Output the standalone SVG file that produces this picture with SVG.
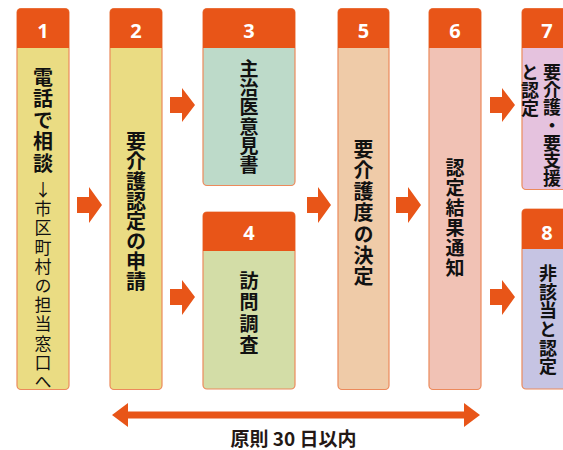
<svg xmlns="http://www.w3.org/2000/svg" width="563" height="450" viewBox="0 0 563 450">
<style>
.box{stroke:#EC8A5C;stroke-width:1.2}
.hd{fill:#E85518}
.num{font-family:"Noto Sans","Liberation Sans",sans-serif;font-weight:700;font-size:20px;fill:#fff;text-anchor:middle}
.vt{font-family:"Noto Sans CJK JP","Noto Sans CJK SC",sans-serif;font-weight:700;fill:#111;writing-mode:vertical-rl;text-anchor:start}
.vr{font-family:"Noto Sans CJK JP","Noto Sans CJK SC",sans-serif;font-weight:400;fill:#111;writing-mode:vertical-rl;text-orientation:upright;text-anchor:start}
.arr{fill:#E85518}
</style>
<rect width="563" height="450" fill="#fff"/>

<g id="node1">
<rect class="box" x="17" y="8.5" width="52" height="381" rx="4" fill="#EADC83"/>
<path class="hd" d="M17,48 V12.5 a4,4 0 0 1 4,-4 H65 a4,4 0 0 1 4,4 V48 Z"/>
<text class="num" x="43" y="38">1</text>
<text class="vt" x="43" y="67" font-size="20" letter-spacing="1.5">電話で相談</text>
<text class="vr" x="43" y="181" font-size="17" letter-spacing="2.2">↓市区町村の担当窓口へ</text>
</g>

<g id="node2">
<rect class="box" x="110" y="8.5" width="52" height="381" rx="4" fill="#EADC83"/>
<path class="hd" d="M110,48 V12.5 a4,4 0 0 1 4,-4 H158 a4,4 0 0 1 4,4 V48 Z"/>
<text class="num" x="136" y="38">2</text>
<text class="vt" x="136" y="131" font-size="20">要介護認定の申請</text>
</g>

<g id="node3">
<rect class="box" x="203" y="8.5" width="92" height="177" rx="4" fill="#BDDAC9"/>
<path class="hd" d="M203,48 V12.5 a4,4 0 0 1 4,-4 H291 a4,4 0 0 1 4,4 V48 Z"/>
<text class="num" x="249" y="38">3</text>
<text class="vt" x="249" y="59" font-size="19" letter-spacing="0.3">主治医意見書</text>
</g>

<g id="node4">
<rect class="box" x="203" y="212" width="92" height="177" rx="4" fill="#D3DDA7"/>
<path class="hd" d="M203,251 V216 a4,4 0 0 1 4,-4 H291 a4,4 0 0 1 4,4 V251 Z"/>
<text class="num" x="249" y="240">4</text>
<text class="vt" x="249" y="271" font-size="19" letter-spacing="2.5">訪問調査</text>
</g>

<g id="node5">
<rect class="box" x="338" y="8.5" width="51" height="381" rx="4" fill="#EFCBA8"/>
<path class="hd" d="M338,48 V12.5 a4,4 0 0 1 4,-4 H385 a4,4 0 0 1 4,4 V48 Z"/>
<text class="num" x="363.5" y="38">5</text>
<text class="vt" x="363.5" y="139" font-size="20" letter-spacing="1.3">要介護度の決定</text>
</g>

<g id="node6">
<rect class="box" x="429" y="8.5" width="52" height="381" rx="4" fill="#F1C2B5"/>
<path class="hd" d="M429,48 V12.5 a4,4 0 0 1 4,-4 H477 a4,4 0 0 1 4,4 V48 Z"/>
<text class="num" x="455" y="38">6</text>
<text class="vt" x="455" y="158" font-size="19" letter-spacing="1">認定結果通知</text>
</g>

<g id="node7">
<rect class="box" x="522" y="8.5" width="52" height="181" rx="4" fill="#E5C2DE"/>
<path class="hd" d="M522,48 V12.5 a4,4 0 0 1 4,-4 H570 a4,4 0 0 1 4,4 V48 Z"/>
<text class="num" x="547" y="38">7</text>
<text class="vt" x="552" y="63" font-size="18" letter-spacing="-0.3">要介護・要支援</text>
<text class="vt" x="530" y="63" font-size="18">と認定</text>
</g>

<g id="node8">
<rect class="box" x="522" y="209" width="52" height="180" rx="4" fill="#C6C4E3"/>
<path class="hd" d="M522,249 V213 a4,4 0 0 1 4,-4 H570 a4,4 0 0 1 4,4 V249 Z"/>
<text class="num" x="547" y="240">8</text>
<text class="vt" x="548" y="264" font-size="18" letter-spacing="0.7">非該当と認定</text>
</g>

<g id="connectors">
<path class="arr" d="M77,197 H89 V187 L102,205 L89,223 V213 H77 Z"/>
<path class="arr" d="M170,97 H182 V88 L195,105 L182,122 V113 H170 Z"/>
<path class="arr" d="M170,289 H182 V280 L195,297 L182,315 V305 H170 Z"/>
<path class="arr" d="M307,197 H318 V187 L331,205 L318,223 V213 H307 Z"/>
<path class="arr" d="M396,197 H408 V187 L421,205 L408,223 V213 H396 Z"/>
<path class="arr" d="M490,97 H502 V88 L515,105 L502,122 V113 H490 Z"/>
<path class="arr" d="M490,289 H502 V280 L515,297 L502,315 V305 H490 Z"/>
<path class="arr" d="M112,415 L128,403 V411.5 H464 V403 L480,415 L464,427 V418.5 H128 V427 Z"/>
</g>

<text x="293.5" y="446" font-family="Noto Sans CJK JP, Noto Sans CJK SC, sans-serif" font-weight="700" font-size="19" fill="#231815" text-anchor="middle">原則 30 日以内</text>
</svg>
